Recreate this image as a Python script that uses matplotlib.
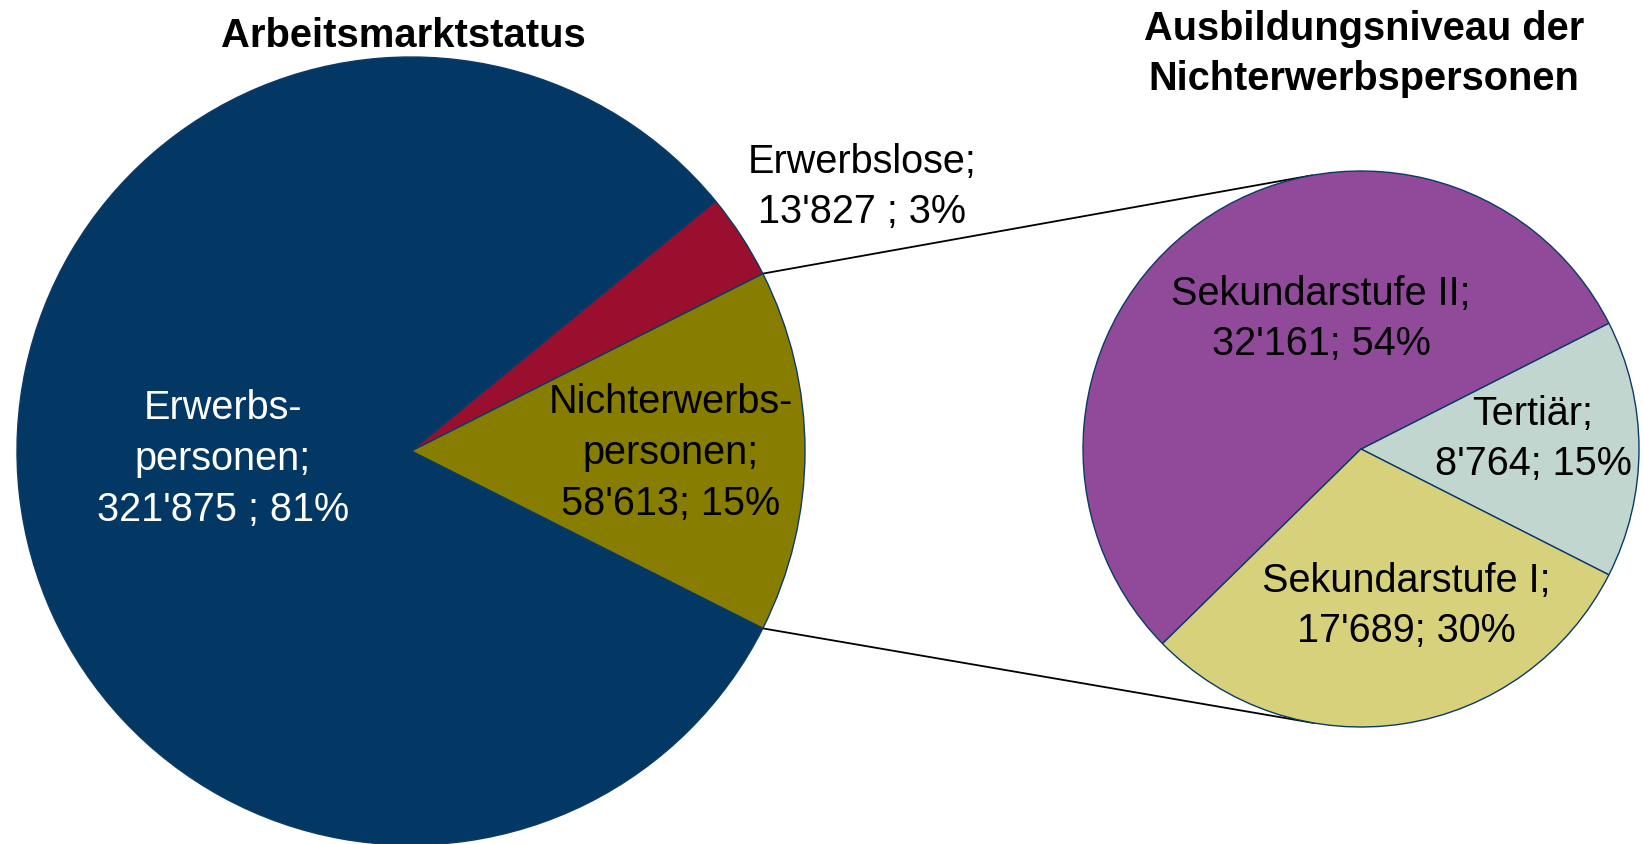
import numpy as np
import matplotlib.pyplot as plt

# ===== Daten =====
status_labels = ["Nichterwerbs-\npersonen;\n58'613; 15%",
                 "Erwerbslose;\n13'827 ; 3%",
                 "Erwerbs-\npersonen;\n321'875 ; 81%"]
status_values = [58613, 13827, 321875]
status_colors = ['#877d00', '#9a0f2e', '#033865']

bildung_labels = ["Tertiär;\n8'764; 15%",
                  "Sekundarstufe II;\n32'161; 54%",
                  "Sekundarstufe I;\n17'689; 30%"]
bildung_values = [8764, 32161, 17689]
bildung_colors = ['#c1d6cf', '#914a9a', '#d7d17c']

W, H = 1643, 845
plt.rcParams['font.family'] = ['Liberation Sans', 'DejaVu Sans']

fig = plt.figure(figsize=(W / 100, H / 100), dpi=100)
ax = fig.add_axes([0, 0, 1, 1])

# Pixelkoordinaten (y nach oben)
c1, r1 = (411, H - 452), 394
c2, r2 = (1361, H - 450), 278

edge = dict(edgecolor='#0b3a68', linewidth=1.0)

ang1 = 360 * status_values[0] / sum(status_values)
w1, _ = ax.pie(status_values, colors=status_colors, center=c1, radius=r1,
               startangle=-ang1 / 2, counterclock=True, wedgeprops=edge)

ang2 = 360 * bildung_values[0] / sum(bildung_values)
w2, _ = ax.pie(bildung_values, colors=bildung_colors, center=c2, radius=r2,
               startangle=-ang2 / 2, counterclock=True, wedgeprops=edge)

ax.set_xlim(0, W)
ax.set_ylim(0, H)
ax.set_aspect('equal')
ax.axis('off')

# Verbindungslinien (Tangenten an den rechten Kreis)
for theta, sign in [(w1[0].theta2, -1), (w1[0].theta1, 1)]:
    px = c1[0] + r1 * np.cos(np.radians(theta))
    py = c1[1] + r1 * np.sin(np.radians(theta))
    d = np.hypot(px - c2[0], py - c2[1])
    phi = np.arctan2(py - c2[1], px - c2[0])
    alpha = np.arccos(r2 / d)
    t = phi + sign * alpha
    tx, ty = c2[0] + r2 * np.cos(t), c2[1] + r2 * np.sin(t)
    ax.plot([px, tx], [py, ty], color='black', lw=1.3, zorder=0)

# Beschriftungen
lab_kw = dict(ha='center', va='center', fontsize=28.5, linespacing=1.42)
ax.text(223, H - 459, status_labels[2], color='white', **lab_kw)
ax.text(671, H - 453, status_labels[0], color='black', **lab_kw)
ax.text(862, H - 187, status_labels[1], color='black', **lab_kw)
ax.text(1321, H - 319, bildung_labels[1], color='black', **lab_kw)
ax.text(1533, H - 439, bildung_labels[0], color='black', **lab_kw)
ax.text(1406, H - 606, bildung_labels[2], color='black', **lab_kw)

# Titel
ax.text(403, H - 47, 'Arbeitsmarktstatus', ha='center', va='baseline',
        fontsize=28.8, fontweight='bold')
ax.text(1364, H - 54, 'Ausbildungsniveau der\nNichterwerbspersonen', ha='center',
        va='center', fontsize=28.6, fontweight='bold', linespacing=1.4)

plt.savefig('out.png', dpi=100)
